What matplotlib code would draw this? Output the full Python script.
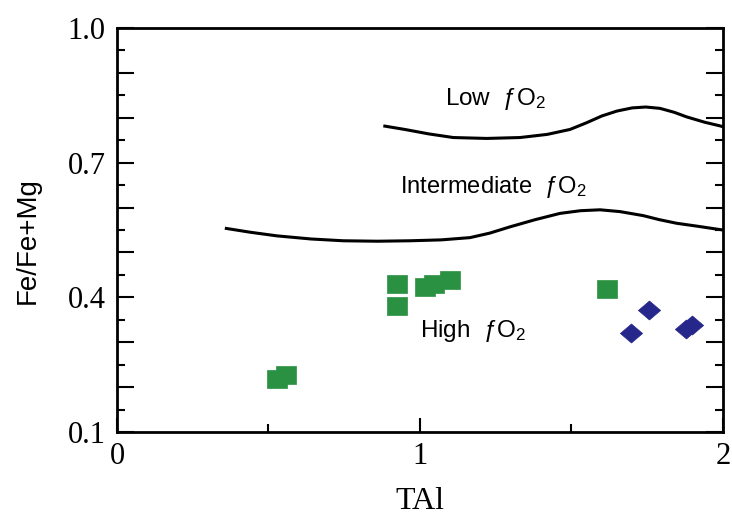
import matplotlib
matplotlib.use("Agg")
import matplotlib.pyplot as plt
from matplotlib.ticker import MultipleLocator, FixedLocator

# ---- data ----
sq_x = [0.529, 0.557, 0.924, 0.924, 1.016, 1.045, 1.099, 1.618]
sq_y = [0.218, 0.228, 0.430, 0.381, 0.423, 0.430, 0.439, 0.419]

dia_x = [1.695, 1.757, 1.878, 1.898]
dia_y = [0.320, 0.372, 0.329, 0.338]

low_x = [0.879, 0.95, 1.03, 1.110, 1.22, 1.330, 1.42, 1.495, 1.55, 1.60, 1.65, 1.70, 1.745, 1.792, 1.84, 1.880, 1.94, 1.990, 2.0]
low_y = [0.782, 0.774, 0.764, 0.756, 0.754, 0.756, 0.763, 0.774, 0.789, 0.804, 0.815, 0.822, 0.824, 0.821, 0.812, 0.802, 0.790, 0.782, 0.780]

int_x = [0.356, 0.44, 0.527, 0.64, 0.747, 0.86, 0.967, 1.07, 1.165, 1.23, 1.297, 1.38, 1.462, 1.53, 1.594, 1.66, 1.737, 1.79, 1.847, 1.92, 1.979, 2.0]
int_y = [0.554, 0.545, 0.537, 0.530, 0.526, 0.525, 0.526, 0.528, 0.533, 0.543, 0.557, 0.573, 0.587, 0.593, 0.595, 0.591, 0.582, 0.573, 0.565, 0.558, 0.552, 0.550]

y_labeled = [0.1, 0.4, 0.7, 1.0]
x_labeled = [0, 1, 2]

GREEN = "#2a9142"
NAVY = "#26278a"

serif = ["Liberation Serif", "DejaVu Serif"]
sans = ["Liberation Sans", "DejaVu Sans"]

plt.rcParams["mathtext.fontset"] = "custom"
plt.rcParams["mathtext.rm"] = "Liberation Sans"
plt.rcParams["mathtext.it"] = "Liberation Sans:italic"

fig = plt.figure(figsize=(7.32, 5.15), dpi=100)
ax = fig.add_axes([0.1598, 0.1612, 0.9877 - 0.1598, 0.9456 - 0.1612])

ax.plot(low_x, low_y, color="black", lw=2.2, solid_capstyle="butt", zorder=2)
ax.plot(int_x, int_y, color="black", lw=2.2, solid_capstyle="butt", zorder=2)

rect = [(-0.55, -0.5), (0.55, -0.5), (0.55, 0.5), (-0.55, 0.5), (-0.55, -0.5)]
ax.plot(sq_x, sq_y, linestyle="none", marker=rect, markersize=15,
        markerfacecolor=GREEN, markeredgecolor=GREEN, markeredgewidth=0.5, zorder=3)
diam = [(-0.55, 0), (0, 0.47), (0.55, 0), (0, -0.47), (-0.55, 0)]
ax.plot(dia_x, dia_y, linestyle="none", marker=diam, markersize=16,
        markerfacecolor=NAVY, markeredgecolor=NAVY, markeredgewidth=0.5, zorder=3)

ax.text(1.083, 0.828, "Low  ƒO$_2$", family=sans, fontsize=17.5, ha="left", va="baseline")
ax.text(0.934, 0.632, "Intermediate  ƒO$_2$", family=sans, fontsize=17, ha="left", va="baseline")
ax.text(1.0, 0.312, "High  ƒO$_2$", family=sans, fontsize=17.5, ha="left", va="baseline")

ax.set_xlim(0, 2)
ax.set_ylim(0.1, 1.0)

ax.yaxis.set_major_locator(MultipleLocator(0.1))
ax.yaxis.set_minor_locator(FixedLocator([0.15 + 0.1 * i for i in range(9)]))
ax.set_yticklabels([("%.1f" % v if any(abs(v - l) < 1e-6 for l in y_labeled) else "")
                    for v in ax.get_yticks()])
ax.xaxis.set_major_locator(FixedLocator(x_labeled))
ax.xaxis.set_minor_locator(FixedLocator([0.5, 1.5]))
ax.set_xticklabels([str(v) for v in x_labeled])

ax.tick_params(which="major", direction="in", length=12, width=1.5, right=True, top=False,
               labelsize=22)
ax.tick_params(which="minor", direction="in", length=6, width=1.5, right=True, top=False)
ax.tick_params(axis="x", which="major", length=10, pad=7)
ax.tick_params(axis="x", which="minor", length=6)
ax.tick_params(axis="y", which="major", pad=8)
for lab in ax.get_xticklabels() + ax.get_yticklabels():
    lab.set_family(serif)

for s in ax.spines.values():
    s.set_linewidth(2.0)

ax.set_xlabel("TAl", family=serif, fontsize=23, labelpad=12)
ax.set_ylabel("Fe/Fe+Mg", family=sans, fontsize=20, labelpad=14)
ax.yaxis.set_label_coords(-0.125, 0.475)

fig.savefig("out.png", dpi=100)
